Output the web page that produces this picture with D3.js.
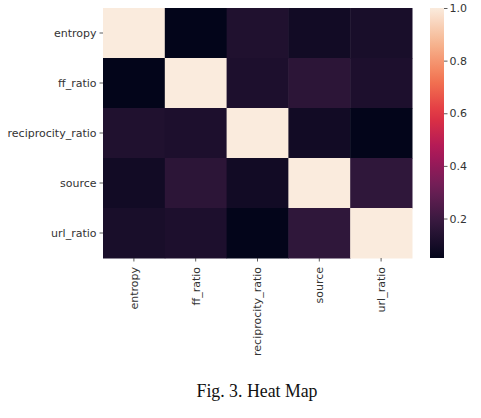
<!DOCTYPE html>
<html><head><meta charset="utf-8">
<script src="https://cdn.jsdelivr.net/npm/d3@7"></script>
<style>body{margin:0;background:#fff}svg{display:block}</style>
</head><body><svg id="c" width="481" height="418"></svg>
<script>
const categories = ["entropy","ff_ratio","reciprocity_ratio","source","url_ratio"];
const values = [
  [1.00, 0.05, 0.13, 0.09, 0.11],
  [0.05, 1.00, 0.12, 0.16, 0.12],
  [0.13, 0.12, 1.00, 0.09, 0.05],
  [0.09, 0.16, 0.09, 1.00, 0.17],
  [0.11, 0.12, 0.05, 0.17, 1.00]
];
const colorTicks = [0.2, 0.4, 0.6, 0.8, 1.0];
const vmin = 0.05, vmax = 1.0;
const caption = "Fig. 3. Heat Map";

const rocket = d3.piecewise(d3.interpolateRgb, ["#03051a","#35193e","#701f57","#ad1759","#e13342","#f37651","#f6b48f","#faebdd"]);
const color = d3.scaleSequential(rocket).domain([vmin, vmax]);

const svg = d3.select("#c");
const x = d3.scaleBand().domain(categories).range([103, 412]);
const y = d3.scaleBand().domain(categories).range([8, 258]);

const cells = [];
values.forEach((row, i) => row.forEach((v, j) => cells.push({r: categories[i], c: categories[j], v})));
svg.append("g").selectAll("rect").data(cells).join("rect")
  .attr("x", d => x(d.c)).attr("y", d => y(d.r))
  .attr("width", x.bandwidth() + 0.5).attr("height", y.bandwidth() + 0.5)
  .attr("fill", d => color(d.v));

const axisColor = "#333";
const yAxis = svg.append("g").attr("transform", "translate(103,0)")
  .call(d3.axisLeft(y).tickSize(3.5).tickPadding(3));
const xAxis = svg.append("g").attr("transform", "translate(0,258)")
  .call(d3.axisBottom(x).tickSize(3.5).tickPadding(3));
[yAxis, xAxis].forEach(g => {
  g.select(".domain").remove();
  g.selectAll(".tick line").attr("stroke", axisColor).attr("stroke-width", 0.8);
  g.selectAll("text").attr("fill", axisColor).style("font-family", "DejaVu Sans, sans-serif").style("font-size", "11px");
});
xAxis.selectAll("text")
  .attr("transform", "rotate(-90)")
  .attr("text-anchor", "end").attr("dy", "0.35em").attr("x", -9).attr("y", 0);

// colorbar
const cb = d3.scaleLinear().domain([vmin, vmax]).range([258, 8]);
const defs = svg.append("defs");
const grad = defs.append("linearGradient").attr("id", "g").attr("x1", 0).attr("y1", 1).attr("x2", 0).attr("y2", 0);
d3.range(0, 1.0001, 0.05).forEach(t => grad.append("stop").attr("offset", t).attr("stop-color", rocket(t)));
svg.append("rect").attr("x", 430).attr("y", 8).attr("width", 14).attr("height", 250).attr("fill", "url(#g)");
const cAxis = svg.append("g").attr("transform", "translate(444,0)")
  .call(d3.axisRight(cb).tickValues(colorTicks).tickFormat(d3.format(".1f")).tickSize(3.5).tickPadding(2));
cAxis.select(".domain").remove();
cAxis.selectAll(".tick line").attr("stroke", axisColor).attr("stroke-width", 0.8);
cAxis.selectAll("text").attr("fill", axisColor).style("font-family", "DejaVu Sans, sans-serif").style("font-size", "11px");

svg.append("text").attr("x", 257).attr("y", 397).attr("text-anchor", "middle")
  .style("font-family", "Liberation Serif, Times New Roman, serif").style("font-size", "17.8px").attr("fill", "#111")
  .text(caption);
</script></body></html>
